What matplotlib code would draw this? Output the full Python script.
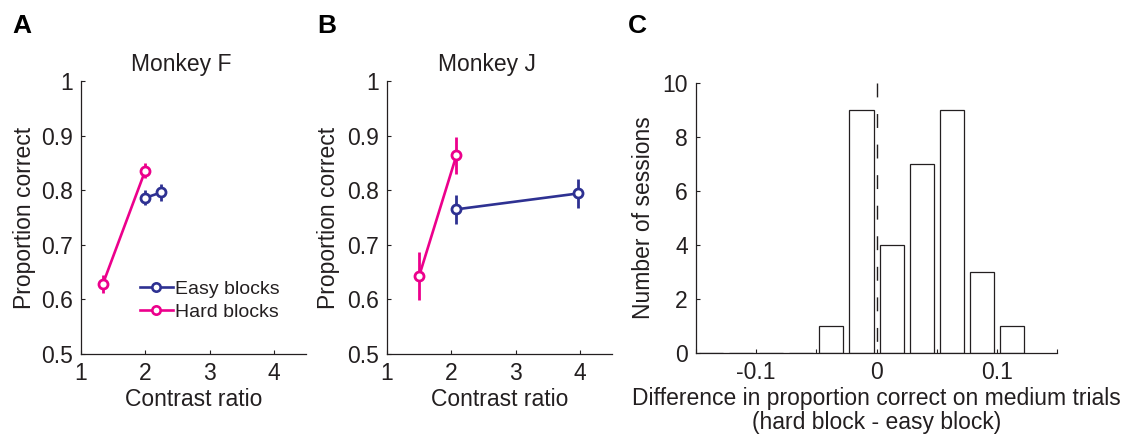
"""Proportion correct by block type (Monkey F, Monkey J) and session histogram."""

import matplotlib

matplotlib.use("Agg")

import matplotlib.pyplot as plt
from matplotlib.lines import Line2D

plt.rcParams["font.family"] = ["Liberation Sans", "DejaVu Sans"]

EASY = "#2e3192"
HARD = "#ec008c"
INK = "#231f20"
FS = 16.5

# Panel A: Monkey F
f_easy_x = [2.0, 2.25]
f_easy_y = [0.786, 0.796]
f_easy_err = [0.014, 0.015]
f_hard_x = [1.34, 2.0]
f_hard_y = [0.628, 0.836]
f_hard_err = [0.017, 0.014]

# Panel B: Monkey J
j_easy_x = [2.08, 3.97]
j_easy_y = [0.765, 0.794]
j_easy_err = [0.027, 0.026]
j_hard_x = [1.5, 2.08]
j_hard_y = [0.643, 0.864]
j_hard_err = [0.044, 0.034]

# Panel C: histogram of hard - easy differences
bin_centers = [-0.1375, -0.1125, -0.0875, -0.0625, -0.0375, -0.0125,
               0.0125, 0.0375, 0.0625, 0.0875, 0.1125]
bin_counts = [0, 0, 0, 0, 1, 9, 4, 7, 9, 3, 1]

LINE_KW = dict(lw=1.9, marker="o", ms=6.5, mew=2.0, mfc="white")


def style(ax):
    ax.spines[["top", "right"]].set_visible(False)
    for s in ("left", "bottom"):
        ax.spines[s].set_color(INK)
        ax.spines[s].set_linewidth(0.9)
    ax.tick_params(direction="in", length=3, width=0.8, colors=INK,
                   labelsize=FS, pad=6)


def psych(ax, title, ex, ey, ee, hx, hy, he, lab_x):
    for x, y, e, c in [(hx, hy, he, HARD), (ex, ey, ee, EASY)]:
        ax.errorbar(x, y, yerr=e, fmt="none", ecolor=c, elinewidth=2.0,
                    capsize=0)
        ax.plot(x, y, color=c, **LINE_KW)
    ax.set_xlim(1, 4.5)
    ax.set_ylim(0.5, 1.0)
    ax.set_xticks([1, 2, 3, 4])
    ax.set_yticks([0.5, 0.6, 0.7, 0.8, 0.9, 1.0])
    ax.set_yticklabels(["0.5", "0.6", "0.7", "0.8", "0.9", "1"])
    ax.set_xlabel("Contrast ratio", fontsize=FS, color=INK, labelpad=2)
    ax.set_ylabel("Proportion correct", fontsize=FS, color=INK)
    ax.yaxis.set_label_coords(lab_x, 0.5)
    ax.set_title(title, fontsize=FS, color=INK, x=0.444, pad=7)
    style(ax)


fig = plt.figure(figsize=(11.34, 4.41), dpi=100)
ax_a = fig.add_axes([0.0714, 0.1973, 0.1984, 0.619])
ax_b = fig.add_axes([0.3413, 0.1973, 0.1984, 0.619])
ax_c = fig.add_axes([0.6138, 0.1995, 0.3183, 0.6122])

psych(ax_a, "Monkey F", f_easy_x, f_easy_y, f_easy_err,
      f_hard_x, f_hard_y, f_hard_err, -0.20)
psych(ax_b, "Monkey J", j_easy_x, j_easy_y, j_easy_err,
      j_hard_x, j_hard_y, j_hard_err, -0.21)

handles = [Line2D([], [], color=EASY, ms=6, lw=1.9, marker="o", mew=1.9,
                  mfc="white"),
           Line2D([], [], color=HARD, ms=6, lw=1.9, marker="o", mew=1.9,
                  mfc="white")]
ax_a.legend(handles, ["Easy blocks", "Hard blocks"], loc="upper left",
            bbox_to_anchor=(0.262, 0.271), frameon=False, fontsize=14,
            handlelength=1.7, handletextpad=0.1, borderpad=0,
            borderaxespad=0, labelspacing=0.29, labelcolor=INK)

ax_c.bar(bin_centers, bin_counts, width=0.02, color="white",
         edgecolor=INK, linewidth=0.9)
# drawn top-down so the dash pattern starts at the top of the axes
ax_c.plot([0, 0], [10, 0], color=INK, lw=1.0, ls=(0, (10, 12)))
ax_c.set_xlim(-0.15, 0.15)
ax_c.set_ylim(0, 10)
ax_c.set_xticks([-0.15, -0.1, -0.05, 0, 0.05, 0.1, 0.15])
ax_c.set_xticklabels(["", "-0.1", "", "0", "", "0.1", ""])
ax_c.set_yticks([0, 2, 4, 6, 8, 10])
ax_c.set_xlabel("Difference in proportion correct on medium trials\n"
                "(hard block - easy block)", fontsize=FS, color=INK,
                linespacing=1.05, labelpad=2)
ax_c.set_ylabel("Number of sessions", fontsize=FS, color=INK)
ax_c.yaxis.set_label_coords(-0.115, 0.5)
style(ax_c)

for x, lab in [(12, "A"), (317, "B"), (628, "C")]:
    fig.text(x / 1134, 1 - 33 / 441, lab, fontsize=19, fontweight="bold",
             color="black", va="baseline")

fig.savefig("out.png", dpi=100)
